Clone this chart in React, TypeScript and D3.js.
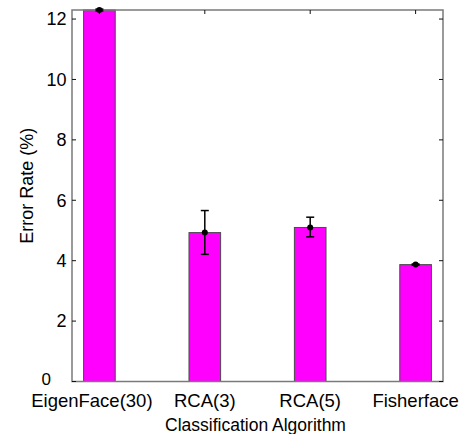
import React from "react";
import * as d3 from "d3";

// Classification error rate per algorithm (percent)
const categories = ["EigenFace(30)", "RCA(3)", "RCA(5)", "Fisherface"];
const errorRate = [12.3, 4.93, 5.1, 3.87];
const errorLow = [12.27, 4.21, 4.79, 3.85];
const errorHigh = [12.33, 5.66, 5.44, 3.89];
const yTicks = [0, 2, 4, 6, 8, 10, 12];

const W = 462;
const H = 434;
const FONT = "'Liberation Sans', Arial, Helvetica, sans-serif";

export default function App() {
  const left = 72;
  const right = 443;
  const top = 10;
  const bottom = 381.5;

  const x = d3.scaleLinear().domain([0.74, 4.26]).range([left, right]);
  const y = d3.scaleLinear().domain([0, 12.3]).range([bottom, top]);
  const barW = x(1.3) - x(1);
  const capW = 8;
  const tickLen = 4;

  return (
    <svg
      width={W}
      height={H}
      style={{ position: "absolute", left: 0, top: 0, background: "#fff" }}
      fontFamily={FONT}
    >
      {/* bars */}
      {categories.map((c, i) => (
        <rect
          key={c}
          x={x(i + 1) - barW / 2}
          y={y(errorRate[i])}
          width={barW}
          height={y(0) - y(errorRate[i])}
          fill="#ff00ff"
          stroke="#4a4a4a"
          strokeWidth={1}
        />
      ))}

      {/* axes box */}
      <rect
        x={left}
        y={top}
        width={right - left}
        height={bottom - top}
        fill="none"
        stroke="#7a7a7a"
        strokeWidth={1.5}
      />

      {/* y ticks on both sides */}
      {yTicks.map((t) => (
        <g key={t}>
          <line x1={left} x2={left + tickLen} y1={y(t)} y2={y(t)} stroke="#111" strokeWidth={1} />
          <line x1={right} x2={right - tickLen} y1={y(t)} y2={y(t)} stroke="#111" strokeWidth={1} />
          <text
            x={t === 0 ? 51 : 66.5}
            y={t === 0 ? y(t) - 2 : y(t)}
            dy="0.35em"
            textAnchor="end"
            fontSize={t === 0 ? 17 : 18}
            fill="#000"
          >
            {t}
          </text>
        </g>
      ))}

      {/* x ticks on top and bottom */}
      {categories.map((c, i) => (
        <g key={c}>
          <line x1={x(i + 1)} x2={x(i + 1)} y1={top} y2={top + tickLen} stroke="#111" strokeWidth={1} />
          <text
            x={x(i + 1) + (i === 0 ? -7.5 : 0)}
            y={406.5}
            textAnchor="middle"
            fontSize={18.5}
            fill="#000"
          >
            {c}
          </text>
        </g>
      ))}

      {/* error bars */}
      {categories.map((c, i) => {
        const cx = x(i + 1);
        return (
          <g key={c} stroke="#000" strokeWidth={1.5}>
            <line x1={cx} x2={cx} y1={y(errorLow[i])} y2={y(errorHigh[i])} />
            <line x1={cx - capW / 2} x2={cx + capW / 2} y1={y(errorLow[i])} y2={y(errorLow[i])} />
            <line x1={cx - capW / 2} x2={cx + capW / 2} y1={y(errorHigh[i])} y2={y(errorHigh[i])} />
            <circle cx={cx} cy={y(errorRate[i])} r={3} fill="#000" stroke="none" />
          </g>
        );
      })}

      {/* axis titles */}
      <text
        x={(left + right) / 2 - 2}
        y={430.5}
        textAnchor="middle"
        fontSize={17.5}
        fill="#000"
      >
        Classification Algorithm
      </text>
      <text
        transform={`translate(32.5, ${(top + bottom) / 2 - 10}) rotate(-90)`}
        textAnchor="middle"
        fontSize={18}
        fill="#000"
      >
        Error Rate (%)
      </text>
    </svg>
  );
}
